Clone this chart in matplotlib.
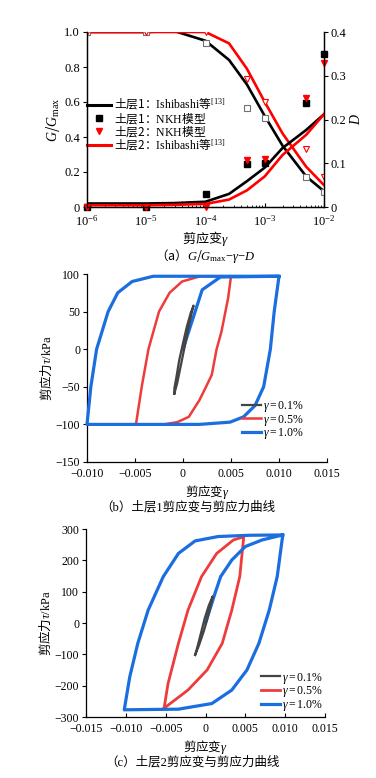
import matplotlib
matplotlib.use("Agg")
import matplotlib.pyplot as plt
from matplotlib.lines import Line2D
from matplotlib.ticker import FuncFormatter, NullFormatter, LogLocator
import numpy as np

plt.rcParams.update({
    "font.family": ["Liberation Serif", "Noto Sans CJK SC"],
    "mathtext.fontset": "custom",
    "mathtext.rm": "Noto Sans CJK SC",
    "mathtext.sf": "Liberation Serif",
    "mathtext.it": "Liberation Serif:italic",
    "mathtext.bf": "Liberation Serif:bold",
    "axes.unicode_minus": True,
    "axes.linewidth": 0.9,
    "xtick.direction": "in", "ytick.direction": "out",
    "xtick.major.size": 3, "ytick.major.size": 3,
    "xtick.minor.size": 1.8,
})

# ---- (a) G/Gmax - gamma - D ----
strain_curve = [1e-6, 3e-6, 1e-5, 3e-5, 1e-4, 2.5e-4, 5e-4, 1e-3, 2e-3, 5e-3, 1e-2]
g_soil1 = [1.0, 1.0, 1.0, 1.005, 0.95, 0.84, 0.70, 0.52, 0.35, 0.175, 0.09]
g_soil2 = [1.0, 1.0, 1.0, 1.0, 1.0, 0.935, 0.79, 0.60, 0.42, 0.23, 0.125]
d_soil1 = [0.008, 0.008, 0.008, 0.009, 0.012, 0.030, 0.059, 0.090, 0.135, 0.176, 0.212]
d_soil2 = [0.004, 0.004, 0.004, 0.005, 0.007, 0.017, 0.038, 0.070, 0.119, 0.165, 0.212]

strain_pts = [1e-6, 1e-5, 1e-4, 5e-4, 1e-3, 5e-3, 1e-2]
nkh_g1 = [1.0, 1.0, 0.94, 0.565, 0.508, 0.17, 0.086]
nkh_g2 = [1.0, 1.0, 1.0, 0.73, 0.60, 0.333, 0.17]
nkh_d1 = [0.0, 0.0, 0.03, 0.099, 0.10, 0.237, 0.35]
nkh_d2 = [0.0, 0.0, 0.0, 0.108, 0.11, 0.25, 0.33]

# ---- (b) soil layer 1 hysteresis loops ----
b01_x = [-0.0009, -0.0006, -0.0002, 0.0002, 0.0006, 0.0009, 0.0011,
         0.0008, 0.0004, 0.0000, -0.0004, -0.0007, -0.0009, -0.0009]
b01_y = [-59, -45, -20, 5, 30, 48, 58, 48, 30, 8, -15, -38, -52, -59]
b05_x = [-0.0049, -0.0043, -0.0036, -0.0025, -0.0014, -0.0001, 0.0018, 0.0050,
         0.0047, 0.0040, 0.0035, 0.0030, 0.0024, 0.0017, 0.0006, -0.0006, -0.0020, -0.0049]
b05_y = [-100, -50, 0, 50, 75, 90, 97, 97,
         68, 23, 0, -34, -50, -68, -90, -97, -100, -100]
b10_x = [0.0, 0.0020, 0.0039, 0.0100,
         0.0095, 0.0091, 0.0084, 0.0075, 0.0063, 0.0049, 0.0017, -0.0100,
         -0.0096, -0.0090, -0.0078, -0.0068, -0.0053, -0.0031, 0.0100]
b10_y = [0, 79, 96, 97,
         50, 0, -50, -75, -90, -97, -100, -100,
         -50, 0, 50, 75, 90, 97, 97]

# ---- (c) soil layer 2 hysteresis loops ----
c01_x = [-0.0013, -0.0008, -0.0002, 0.0003, 0.0007, 0.0009,
         0.0004, -0.0001, -0.0006, -0.0010, -0.0013]
c01_y = [-102, -70, -25, 20, 60, 85, 55, 15, -35, -75, -102]
c05_x = [-0.0052, -0.0047, -0.0034, -0.0022, -0.0005, 0.0014, 0.0035, 0.0048,
         0.0043, 0.0033, 0.0021, 0.0002, -0.0022, -0.0052]
c05_y = [-272, -193, -65, 41, 148, 222, 265, 275,
         148, 41, -65, -150, -214, -272]
c10_x = [0.0, 0.0012, 0.0019, 0.0033, 0.0050, 0.0071, 0.0097,
         0.0090, 0.0080, 0.0067, 0.0052, 0.0033, 0.0008, -0.0034, -0.0102,
         -0.0095, -0.0085, -0.0072, -0.0053, -0.0034, -0.0013, 0.0016, 0.0055, 0.0097]
c10_y = [0, 95, 148, 201, 244, 265, 281,
         148, 41, -65, -150, -214, -257, -275, -277,
         -171, -65, 41, 148, 222, 262, 276, 280, 281]

legend_labels = [r"$\gamma\mathsf{=0.1\%}$", r"$\gamma\mathsf{=0.5\%}$", r"$\gamma\mathsf{=1.0\%}$"]

W, H = 376, 778
fig = plt.figure(figsize=(W / 100, H / 100), dpi=100)


def box(l, t, r, b):
    return [l / W, 1 - b / H, (r - l) / W, (b - t) / H]


# panel a
ax = fig.add_axes(box(87, 32, 324, 207))
ax2 = ax.twinx()
ax.set_xscale("log")
ax.plot(strain_curve, g_soil1, color="black", lw=1.9, zorder=3)
ax.plot(strain_curve, g_soil2, color="#ff0000", lw=1.9, zorder=3)
ax.plot(strain_pts, nkh_g1, ls="none", marker="s", ms=4, mfc="white", mec="#707070", mew=0.8, zorder=4)
ax.plot(strain_pts, nkh_g2, ls="none", marker="v", ms=4.5, mfc="white", mec="#ff0000", mew=0.8, zorder=4)
ax2.plot(strain_curve, d_soil1, color="black", lw=1.9)
ax2.plot(strain_curve, d_soil2, color="#ff0000", lw=1.9)
ax2.plot(strain_pts, nkh_d1, ls="none", marker="s", ms=4.5, color="black", clip_on=False)
ax2.plot(strain_pts, nkh_d2, ls="none", marker="v", ms=5, color="#ff0000", clip_on=False)
ax.set_xlim(1e-6, 1e-2)
ax.set_ylim(0, 1.0)
ax2.set_ylim(0, 0.4)
ax.xaxis.set_major_locator(LogLocator(base=10, numticks=10))
ax.xaxis.set_minor_locator(LogLocator(base=10, subs=np.arange(2, 10), numticks=10))
ax.xaxis.set_minor_formatter(NullFormatter())
ax.set_yticks([0, 0.2, 0.4, 0.6, 0.8, 1.0])
ax.yaxis.set_major_formatter(FuncFormatter(lambda v, p: "0" if v == 0 else f"{v:.1f}"))
ax2.set_yticks([0, 0.1, 0.2, 0.3, 0.4])
ax2.yaxis.set_major_formatter(FuncFormatter(lambda v, p: "0" if v == 0 else f"{v:.1f}"))
for a in (ax, ax2):
    a.spines["top"].set_visible(False)
    a.tick_params(labelsize=9, pad=2)
ax.tick_params(axis="x", pad=5)
ax.set_ylabel(r"$G/G_{\mathsf{max}}$", fontsize=10, labelpad=2)
ax2.set_ylabel(r"$D$", fontsize=10, labelpad=2)
ax.set_xlabel(r"$\mathrm{剪应变}\gamma$", fontsize=9.5, labelpad=0)

handles = [Line2D([], [], color="black", lw=2.2),
           Line2D([], [], ls="none", marker="s", ms=4.5, color="black"),
           Line2D([], [], ls="none", marker="v", ms=5, color="#ff0000"),
           Line2D([], [], color="#ff0000", lw=2.2)]
labels = [r"$\mathrm{土层1：}\mathsf{Ishibashi}\mathrm{等}^{\mathsf{[13]}}$",
          r"$\mathrm{土层1：}\mathsf{NKH}\mathrm{模型}$",
          r"$\mathrm{土层2：}\mathsf{NKH}\mathrm{模型}$",
          r"$\mathrm{土层2：}\mathsf{Ishibashi}\mathrm{等}^{\mathsf{[13]}}$"]
ax.legend(handles, labels, loc="upper left", bbox_to_anchor=(0.0, 0.63), frameon=False,
          fontsize=8.5, labelspacing=-0.12, handlelength=2.0, handletextpad=0.3, borderpad=0,
          borderaxespad=0)
fig.text(205 / W, 1 - 256 / H, r"$\mathrm{（a）}G/G_{\mathsf{max}}\mathsf{-}\gamma\mathsf{-}D$",
         ha="center", va="center", fontsize=9)


def loop_axes(rect, xlim, xticks, ylim, yticks):
    a = fig.add_axes(rect)
    a.spines["top"].set_visible(False)
    a.spines["right"].set_visible(False)
    a.set_xlim(*xlim)
    a.set_ylim(*ylim)
    a.set_xticks(xticks)
    a.set_yticks(yticks)
    a.xaxis.set_major_formatter(FuncFormatter(
        lambda v, p: "0" if abs(v) < 1e-9 else f"{v:.3f}".replace("-", "\u2212")))
    a.tick_params(labelsize=8.5, pad=2)
    a.tick_params(axis="x", pad=4.5)
    a.set_xlabel(r"$\mathrm{剪应变}\gamma$", fontsize=9, labelpad=2)
    a.set_ylabel(r"$\mathrm{剪应力}\tau\mathsf{/kPa}$", fontsize=9, labelpad=1)
    return a


# panel b
axb = loop_axes(box(87, 274, 327, 462), (-0.0100, 0.015),
                [-0.010, -0.005, 0, 0.005, 0.010, 0.015], (-150, 100), [-150, -100, -50, 0, 50, 100])
axb.plot(b01_x, b01_y, color="#444444", lw=1.6, label=legend_labels[0], zorder=4)
axb.plot(b05_x, b05_y, color="#ee3b3b", lw=1.8, label=legend_labels[1], zorder=3)
axb.plot(b10_x, b10_y, color="#1a6ee0", lw=2.3, label=legend_labels[2], zorder=3, clip_on=False)
axb.legend(loc="lower right", bbox_to_anchor=(0.905, 0.11), frameon=False, fontsize=8.5,
           labelspacing=-0.1, handlelength=1.6, handletextpad=0.2, borderpad=0, borderaxespad=0)
fig.text(188 / W, 1 - 507 / H, "（b）土层1剪应变与剪应力曲线", ha="center", va="center", fontsize=9)

# panel c
axc = loop_axes(box(86, 529, 325, 717), (-0.015, 0.015),
                [-0.015, -0.010, -0.005, 0, 0.005, 0.010, 0.015], (-300, 300),
                [-300, -200, -100, 0, 100, 200, 300])
axc.plot(c01_x, c01_y, color="#444444", lw=1.6, label=legend_labels[0], zorder=4)
axc.plot(c05_x, c05_y, color="#ee3b3b", lw=2.0, label=legend_labels[1], zorder=3)
axc.plot(c10_x, c10_y, color="#1a6ee0", lw=2.3, label=legend_labels[2], zorder=3)
axc.legend(loc="lower right", bbox_to_anchor=(0.99, 0.02), frameon=False, fontsize=8.5,
           labelspacing=-0.1, handlelength=1.6, handletextpad=0.2, borderpad=0, borderaxespad=0)
fig.text(192 / W, 1 - 762 / H, "（c）土层2剪应变与剪应力曲线", ha="center", va="center", fontsize=9)

fig.savefig("out.png", dpi=100)
